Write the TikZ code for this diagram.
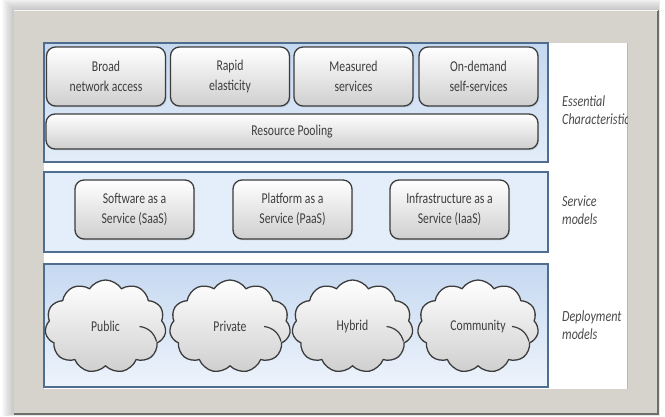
\documentclass[tikz,border=0pt]{standalone}
\usepackage{fontspec}
\setmainfont{Carlito}[FakeStretch=0.78]
\usetikzlibrary{shapes.symbols,shadows}
\definecolor{framegray}{HTML}{D5D3CC}
\definecolor{frameedge}{HTML}{6E6E6A}
\definecolor{panelline}{HTML}{4F6E8F}
\definecolor{panelAtop}{HTML}{C4D8F0}
\definecolor{panelAbot}{HTML}{E3EDF9}
\definecolor{panelB}{HTML}{E4EEFA}
\definecolor{panelCtop}{HTML}{C6D9F1}
\definecolor{panelCbot}{HTML}{EDF3FB}
\definecolor{boxline}{HTML}{3C3C3C}
\definecolor{boxbot}{HTML}{CFCFCF}
\definecolor{txt}{HTML}{3E3E3E}
\definecolor{lbl}{HTML}{4A4A4A}
\tikzset{
  boxst/.style={draw=boxline, line width=1.3pt, rounded corners=9pt,
    top color=white, bottom color=boxbot, minimum width=119pt,
    minimum height=59pt, align=center, text=txt, inner sep=2pt,
    font=\fontsize{15}{19.5}\selectfont,
    drop shadow={opacity=0.2, shadow xshift=1pt, shadow yshift=-1.5pt}},
  poolst/.style={boxst, minimum width=492pt, minimum height=35pt},
  cloudst/.style={cloud, cloud puffs=11, cloud puff arc=115, aspect=1.3,
    draw=boxline, line width=1.3pt, top color=white, bottom color=boxbot,
    minimum width=121pt, minimum height=93pt, inner sep=0pt, text=txt,
    font=\fontsize{15}{19.5}\selectfont},
  lblst/.style={anchor=west, align=left, text=lbl, inner sep=0pt,
    font=\fontsize{15.5}{18}\selectfont\itshape},
  panelst/.style={draw=panelline, line width=1.2pt},
  curlst/.style={draw=boxline, line width=1.2pt}
}
\begin{document}
\begin{tikzpicture}[x=1pt,y=-1pt]
\useasboundingbox (0,0) rectangle (665,417);
% soft shadow of the frame
\foreach \i in {1,...,12}{
  \fill[black,opacity=0.018] (14-\i,10-\i) rectangle (658+0.2*\i,414+0.2*\i);
}
% frame
\fill[framegray] (14,10) rectangle (658,414);
\draw[frameedge, line width=1.5pt] (658,10) -- (658,414) -- (14,414);
\draw[white!80!framegray, line width=1pt] (14,10.5) -- (658,10.5);
% inner white field
\fill[white] (44,43) rectangle (627,389);
\draw[gray!55, line width=1pt] (627,43) -- (627,389);
% panels
\draw[panelst, top color=panelAtop, bottom color=panelAbot] (44,43) rectangle (548,162);
\draw[panelst, fill=panelB] (44,172) rectangle (548,252);
\draw[panelst, top color=panelCtop, bottom color=panelCbot] (44,264) rectangle (548,387);
% essential characteristics
\node[boxst] (bna) at (106,76.5) {Broad\\network access};
\node[boxst] (re) at (230,76.5) {Rapid\\elasticity};
\node[boxst] (ms) at (353.5,76.5) {Measured\\services};
\node[boxst] (ods) at (478.5,76.5) {On-demand\\self-services};
\node[poolst] (rp) at (292,131.5) {Resource Pooling};
% service models
\node[boxst] (saas) at (134.5,209.5) {Software as a\\Service (SaaS)};
\node[boxst] (paas) at (292.5,209.5) {Platform as a\\Service (PaaS)};
\node[boxst] (iaas) at (449.5,209.5) {Infrastructure as a\\Service (IaaS)};
% deployment models
\node[cloudst] (pub) at (105.5,326.5) {Public};
\node[cloudst] (pri) at (230,326.5) {Private};
\node[cloudst] (hyb) at (352.5,326.5) {Hybrid};
\node[cloudst] (com) at (478,326.5) {Community};
\foreach \c in {pub,pri,hyb,com}{
  \begin{scope}[shift={(\c.center)}]
    \draw[curlst] (34,0) .. controls (43,1) and (49,7) .. (51,15);
  \end{scope}
}
% side labels
\begin{scope}
  \clip (44,43) rectangle (627,389);
  \node[lblst] (ec) at (562,110) {Essential\\Characteristic};
  \node[lblst] (sm) at (562,210.5) {Service\\models};
  \node[lblst] (dm) at (562,325) {Deployment\\models};
\end{scope}
\end{tikzpicture}
\end{document}
